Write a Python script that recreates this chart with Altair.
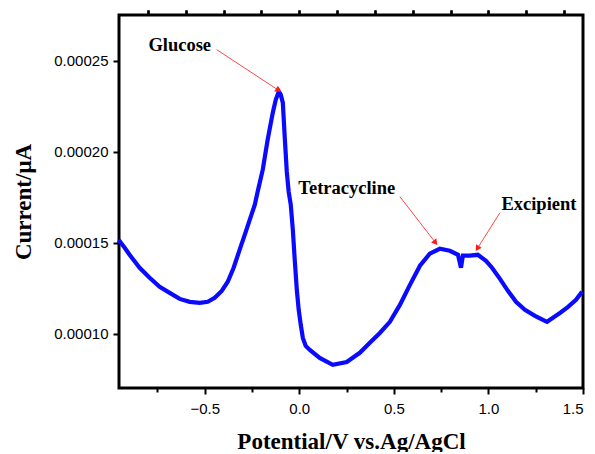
import altair as alt
import pandas as pd

# Traced curve (Potential / V, Current)
potential = [-0.955, -0.923, -0.897, -0.844, -0.791, -0.738, -0.685, -0.632, -0.579, -0.526,
             -0.484, -0.447, -0.410, -0.378, -0.347, -0.315, -0.283, -0.262, -0.235, -0.220,
             -0.193, -0.167, -0.140, -0.124, -0.108, -0.098, -0.087, -0.077, -0.066, -0.056,
             -0.045, -0.034, -0.024, -0.013, -0.003, 0.008, 0.019, 0.034, 0.056, 0.108,
             0.177, 0.251, 0.320, 0.373, 0.426, 0.479, 0.532, 0.585, 0.638, 0.690,
             0.743, 0.796, 0.839, 0.855, 0.865, 0.902, 0.944, 0.987, 1.019, 1.061,
             1.103, 1.146, 1.193, 1.246, 1.288, 1.310, 1.341, 1.378, 1.421, 1.463, 1.495]
current = [0.0001516, 0.0001473, 0.0001434, 0.0001363, 0.0001308, 0.0001258, 0.0001225, 0.0001192, 0.0001176, 0.0001170,
           0.0001176, 0.0001198, 0.0001236, 0.0001286, 0.0001363, 0.0001462, 0.0001560, 0.0001626, 0.0001709, 0.0001780,
           0.0001901, 0.0002066, 0.0002214, 0.0002286, 0.0002330, 0.0002313, 0.0002269, 0.0002082, 0.0001890, 0.0001780,
           0.0001709, 0.0001571, 0.0001407, 0.0001242, 0.0001132, 0.0001049, 0.0000978, 0.0000934, 0.0000912, 0.0000868,
           0.0000830, 0.0000846, 0.0000896, 0.0000951, 0.0001005, 0.0001066, 0.0001159, 0.0001269, 0.0001374, 0.0001440,
           0.0001467, 0.0001456, 0.0001434, 0.0001363, 0.0001429, 0.0001429, 0.0001434, 0.0001401, 0.0001363, 0.0001302,
           0.0001236, 0.0001176, 0.0001132, 0.0001099, 0.0001077, 0.0001066, 0.0001088, 0.0001115, 0.0001148, 0.0001187, 0.0001231]

# Annotations
labels = ["Glucose", "Tetracycline", "Excipient"]
label_x = [-0.632, 0.251, 1.267]
label_y = [0.0002588, 0.0001802, 0.0001714]
arrow_x1 = [-0.437, 0.532, 1.061]
arrow_y1 = [0.000256, 0.0001753, 0.0001665]
arrow_x2 = [-0.114, 0.717, 0.944]
arrow_y2 = [0.000234, 0.0001505, 0.0001473]
arrow_angle = [123, 142, 212]

x_major = [-0.5, 0.0, 0.5, 1.0, 1.5]
x_minor = [-0.75, -0.25, 0.25, 0.75, 1.25]
y_major = [0.00010, 0.00015, 0.00020, 0.00025]

curve = pd.DataFrame({"x": potential, "y": current})
ann = pd.DataFrame({"label": labels, "lx": label_x, "ly": label_y,
                    "x1": arrow_x1, "y1": arrow_y1, "x2": arrow_x2, "y2": arrow_y2,
                    "angle": arrow_angle})

xs = alt.Scale(domain=[-0.953, 1.5], nice=False, zero=False)
ys = alt.Scale(domain=[0.0000703, 0.000275], nice=False, zero=False)

line = alt.Chart(curve).mark_line(color="#0a0aff", strokeWidth=4.2).encode(
    x=alt.X("x:Q", scale=xs,
            axis=alt.Axis(values=x_major, format=".1f", title="Potential/V vs.Ag/AgCl",
                          tickSize=6, titlePadding=14)),
    y=alt.Y("y:Q", scale=ys,
            axis=alt.Axis(values=y_major, format=".5f", title="Current/μA",
                          tickSize=6, titlePadding=18)),
    order=alt.Order("x:Q"),
)

minor = alt.Chart(pd.DataFrame({"x": x_minor})).mark_point(opacity=0).encode(
    x=alt.X("x:Q", scale=xs,
            axis=alt.Axis(values=x_minor, labels=False, title=None, tickSize=4,
                          orient="bottom", domain=False, grid=False)),
)

arrows = alt.Chart(ann).mark_rule(color="#ff3030", strokeWidth=0.9).encode(
    x="x1:Q", y="y1:Q", x2="x2:Q", y2="y2:Q")

heads = alt.Chart(ann).mark_point(shape="triangle", filled=True, color="#ff1a1a",
                                  size=45, opacity=1).encode(
    x="x2:Q", y="y2:Q", angle=alt.Angle("angle:Q", scale=None))

texts = alt.Chart(ann).mark_text(font="Liberation Serif", fontWeight="bold",
                                 fontSize=18.5, color="black").encode(
    x="lx:Q", y="ly:Q", text="label:N")

chart = alt.layer(line, minor, arrows, heads, texts).resolve_axis(x="independent").properties(
    width=464, height=373,
    autosize=alt.AutoSizeParams(type="none"),
    padding={"left": 111, "top": 7, "right": 4, "bottom": 64},
).configure_view(stroke="black", strokeWidth=3).configure_axis(
    grid=False, domain=False, tickColor="black", tickWidth=2,
    labelFont="Liberation Sans", labelFontSize=15, labelColor="black", labelPadding=5,
    titleFont="Liberation Serif", titleFontWeight="bold", titleFontSize=23, titleColor="black",
).configure_axisX(labelPadding=7)

chart.save("out.html", embed_options={"renderer": "svg", "actions": False})
